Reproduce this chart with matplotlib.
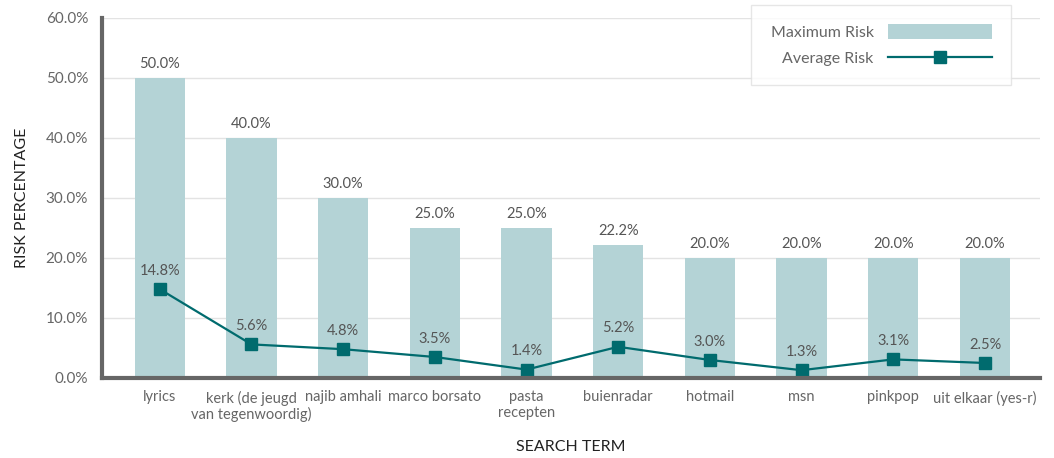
import numpy as np
import matplotlib.pyplot as plt
from matplotlib.ticker import FuncFormatter

terms = ["lyrics", "kerk (de jeugd\nvan tegenwoordig)", "najib amhali", "marco borsato",
         "pasta\nrecepten", "buienradar", "hotmail", "msn", "pinkpop", "uit elkaar (yes-r)"]
max_risk = [50.0, 40.0, 30.0, 25.0, 25.0, 22.2, 20.0, 20.0, 20.0, 20.0]
avg_risk = [14.8, 5.6, 4.8, 3.5, 1.4, 5.2, 3.0, 1.3, 3.1, 2.5]
yticks = [0, 10, 20, 30, 40, 50, 60]

bar_color = '#b4d3d6'
line_color = '#006b6e'
text_color = '#666666'

plt.rcParams['font.family'] = ['Lato', 'DejaVu Sans']

fig = plt.figure(figsize=(10.54, 4.58), dpi=100)
ax = fig.add_axes([0.0968, 0.1747, 0.8899, 0.786])

x = np.arange(len(terms))
bars = ax.bar(x, max_risk, width=0.55, color=bar_color, label='Maximum Risk', zorder=2)
line, = ax.plot(x, avg_risk, color=line_color, lw=1.6, marker='s', markersize=8,
                label='Average Risk', zorder=3)

for xi, v in zip(x, max_risk):
    ax.text(xi, v + 1.1, '%.1f%%' % v, ha='center', va='bottom', fontsize=10.5, color='#555555')
for xi, v in zip(x, avg_risk):
    ax.text(xi, v + 1.9, '%.1f%%' % v, ha='center', va='bottom', fontsize=10.5, color='#555555')

ax.set_xlim(-0.63, 9.6)
ax.set_ylim(0, 60)
ax.set_yticks(yticks)
ax.yaxis.set_major_formatter(FuncFormatter(lambda v, p: '%.1f%%' % v))
ax.set_xticks(x)
ax.set_xticklabels(terms, fontsize=10.5, color=text_color, linespacing=1.1)
ax.tick_params(axis='y', labelsize=11, labelcolor=text_color, length=0, pad=10)
ax.tick_params(axis='x', length=0, pad=9)
ax.grid(axis='y', color='#e3e3e3', lw=1, zorder=0)

for s in ['top', 'right']:
    ax.spines[s].set_visible(False)
for s in ['left', 'bottom']:
    ax.spines[s].set_color('#666666')
    ax.spines[s].set_linewidth(3)
    ax.spines[s].set_zorder(4)

ax.set_ylabel('RISK PERCENTAGE', fontsize=11.5, color='#222222', labelpad=12)
ax.set_xlabel('SEARCH TERM', fontsize=11.5, color='#222222', labelpad=13)

leg = ax.legend(handles=[bars, line], loc='upper right', bbox_to_anchor=(0.969, 1.036),
                markerfirst=False, frameon=True, fancybox=False, fontsize=11.5,
                handlelength=6.5, handleheight=1.0, borderpad=1.2, labelspacing=0.65,
                handletextpad=0.9, borderaxespad=0)
leg.get_frame().set_edgecolor('#e0e0e0')
leg.get_frame().set_linewidth(1)
for t in leg.get_texts():
    t.set_color(text_color)

fig.savefig('out.png', dpi=100)
